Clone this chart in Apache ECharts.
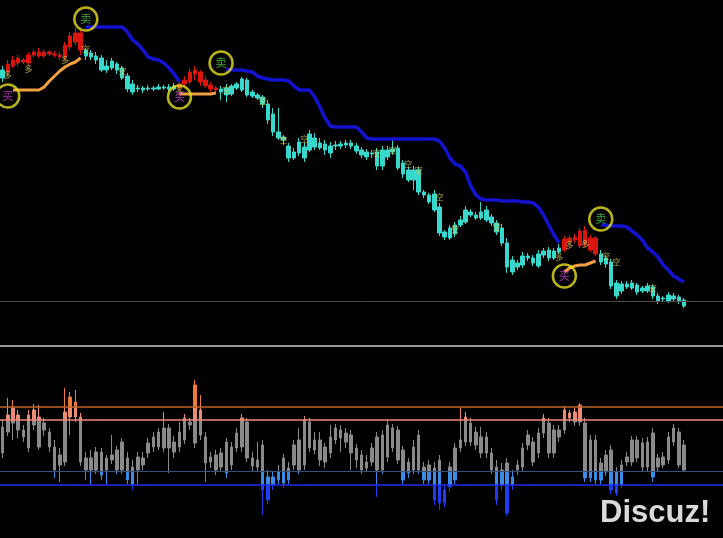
<!DOCTYPE html>
<html><head><meta charset="utf-8">
<script src="https://cdn.jsdelivr.net/npm/echarts@6/dist/echarts.min.js"></script>
<style>html,body{margin:0;padding:0;background:#000}#c{width:723px;height:538px}</style>
</head><body><div id="c"></div>
<script>
// ---- data (price axis is drawn inverted: smaller value = higher on screen) ----
const SLOTS = 139; // bar slots across the window (last ones empty)
const categories = Array.from({length: SLOTS}, (_, i) => 'B' + i);

const priceOpen = [70,72,66,63,60,63,55,52,56,52,54,55,57,47,42,33,
50,53,56,58,66,68,64,68,76,84,89,88,89,88,89,88,87,89,
88,84,82,74,72,80,85,88,
89,88,94,88,90,80,92,95,97,104,114,132,137,146,152,153,147,150,138,143,144,146,146,144,145,
143,146,150,152,154,152,166,150,152,148,163,170,180,170,192,195,194,207,232,238,234,225,222,212,215,218,210,217,223,228,243,272,263,265,256,258,266,255,250,258,252,
250,242,240,246,230,238,238,
254,258,262,283,284,284,288,285,288,291,287,296,298,301,296,297,300];
const priceClose = [78,64,60,58,62,55,52,56,52,54,55,57,45,36,33,50,
56,57,60,70,70,61,70,78,89,92,88,90,88,89,87,87,89,86,
84,80,72,70,82,86,89,90,
92,95,86,84,79,95,96,98,104,120,132,138,140,158,158,142,158,134,147,148,150,153,145,146,143,
146,151,155,157,153,166,150,157,149,168,174,180,170,192,195,202,210,233,237,228,225,220,210,215,218,212,220,223,232,243,267,260,267,256,258,263,254,251,258,251,248,
239,238,237,231,244,250,254,
262,264,286,296,291,287,283,292,291,286,296,301,299,295,299,301,306];
const priceHigh = [66,60,56,55,58,52,50,48,50,50,51,52,42,32,28,30,
48,50,52,55,60,58,62,66,73,80,85,86,85,86,84,85,84,83,
82,76,68,66,70,76,82,86,
86,84,84,82,77,78,90,93,95,100,108,108,135,143,148,138,143,130,133,138,140,142,141,141,140,
140,143,147,149,150,148,146,146,140,145,160,167,166,167,190,193,190,203,230,225,222,216,206,209,212,202,206,214,220,224,238,256,260,252,253,255,250,248,247,248,244,
236,235,234,228,226,235,236,
250,255,259,280,281,281,280,283,286,283,285,293,296,292,293,295,298];
const priceLow = [82,76,68,66,64,65,57,58,58,56,57,60,60,50,45,55,
60,60,64,72,73,70,74,80,92,95,92,93,91,91,90,90,92,91,
90,86,84,80,86,88,92,94,
100,102,96,90,92,97,98,100,108,124,136,140,145,162,160,156,162,152,150,150,155,158,150,149,148,
149,154,158,160,158,170,170,160,155,170,178,182,190,195,198,204,212,236,240,240,237,227,224,217,220,220,222,226,235,246,273,275,270,268,261,266,268,258,261,260,254,
252,244,243,248,247,252,256,
265,268,289,299,294,289,290,295,293,293,299,304,302,303,301,304,308];
// up-trend (red) bar ranges, inclusive
const upTrendRanges = [[1,15],[34,41],[108,114]];

// resistance (blue) and support (orange) trailing lines: [startIndex, values]
const resistanceSegments = [
  [16, [27,27,27,27,27,27,27,27,32,40,44,50,57,59,60,63,68,74,82]],
  [43, [69,70,70,70,71,72,76,78,79,80,80,80,81,86,90,90,90,97,107,118,126,127,127,127,127,127,132,138,
        139,139,139,139,139,139,139,139,139,139,139,139,139,141,148,158,164,166,172,186,195,199,
        200,200,200,201,201,201,201,202,202,203,207,215,225,235,243]],
  [115, [225,225,226,226,226,227,231,235,240,248,252,257,265,270,276,279,282]]
];
const supportSegments = [
  [2, [90,90,90,90,90,90,87,81,76,71,67,64,62,58]],
  [34, [94,94,94,94,94,94,94,93]],
  [108, [272,268,266,265,265,263,261]]
];
// signal circles: [index, level, text]
const signals = [[1,96,'买'],[16,19,'卖'],[34,97,'买'],[42,63,'卖'],[108,276,'买'],[115,219,'卖']];
// small bar annotations: [index, level, text]
const barNotes = [[1,75,'多'],[5,69,'多'],[12,60,'多'],[16,49,'空'],[23,71,'空'],[34,91,'多'],[43,90,'空'],
  [50,101,'空'],[54,140,'空'],[58,139,'空'],[72,153,'空'],[75,150,'空'],[78,164,'空'],[80,170,'空'],
  [84,197,'空'],[87,229,'空'],[95,227,'空'],[107,257,'多'],[109,245,'多'],[112,244,'多'],
  [116,256,'空'],[118,262,'空'],[125,288,'空']];

// oscillator panel (inverted axis)
const oscBodyTop = [427,415,408,415,430,415,410,417,423,432,447,455,412,397,402,417,458,458,452,452,458,455,450,442,458,467,457,458,443,437,432,428,428,442,432,418,422,385,410,437,457,455,453,442,447,433,418,422,458,460,445,477,477,472,458,468,445,440,420,422,440,440,447,437,428,430,433,435,448,455,462,448,437,435,425,428,430,450,462,447,435,467,465,468,460,490,467,448,440,417,423,432,437,437,453,467,470,463,477,465,448,435,442,433,418,423,430,430,410,413,412,405,423,440,440,463,455,450,472,465,457,440,440,443,442,433,458,457,437,428,432,445];
const oscBodyBottom = [453,432,423,430,437,448,425,447,430,447,470,465,462,417,417,462,470,470,470,475,470,460,470,470,480,485,470,465,453,447,447,448,448,452,447,440,425,443,435,463,462,470,467,473,465,448,447,458,466,467,490,500,485,480,483,480,465,470,465,448,450,460,462,453,440,438,442,453,460,470,468,462,470,470,457,448,460,480,473,470,470,480,480,500,503,503,487,480,448,442,442,445,453,453,470,500,485,513,485,470,467,445,462,453,433,453,453,437,430,418,422,422,478,478,480,480,472,490,493,485,462,462,458,467,467,477,467,465,460,442,465,470];
const oscWickTop = [420,398,400,410,425,410,404,405,418,428,440,448,388,392,390,413,452,450,447,448,455,435,446,438,452,460,452,452,438,432,428,412,424,436,422,414,418,380,395,432,452,450,448,438,442,428,414,418,452,442,440,470,472,465,454,462,440,428,416,418,432,432,443,425,424,425,428,430,444,450,455,443,432,430,420,424,426,446,458,440,430,462,460,462,455,485,462,443,408,412,418,427,427,432,448,460,463,458,470,460,443,430,437,428,414,418,425,425,406,410,408,403,418,435,435,458,450,445,467,460,452,436,436,438,437,428,454,452,432,424,428,440];
const oscWickBottom = [458,436,440,438,442,452,430,450,436,452,478,482,466,435,422,466,480,485,474,480,485,464,474,474,484,490,486,470,458,452,450,452,473,458,452,444,430,448,440,482,468,475,472,478,470,452,452,462,472,472,515,504,490,484,488,484,470,474,470,452,454,466,468,458,444,452,448,470,468,474,472,466,497,474,462,452,464,484,478,474,474,484,484,505,510,507,492,484,452,446,446,450,458,458,474,505,490,516,490,475,472,450,466,458,438,458,458,442,434,422,426,426,482,482,484,484,476,494,496,488,466,466,462,472,472,482,471,468,464,446,468,472];
const oscLevels = [407, 420, 471, 485];

// ---- build ----
const RED = '#d8160f', CYAN = '#38d8cc';
function isUp(i){ return upTrendRanges.some(r => i >= r[0] && i <= r[1]); }
const topData = priceOpen.map((o, i) => {
  const c = isUp(i) ? RED : CYAN;
  return {value:[o, priceClose[i], priceHigh[i], priceLow[i]],
          itemStyle:{color:c, color0:c, borderColor:c, borderColor0:c, borderWidth:1}};
});
function segLine(segs){
  const arr = new Array(priceOpen.length).fill(null);
  segs.forEach(([s, vals]) => vals.forEach((v, k) => { arr[s + k] = v; }));
  return arr;
}
const oscData = oscBodyTop.map((t, i) => [t, oscBodyBottom[i], oscWickTop[i], oscWickBottom[i]]);

const H0 = 346, H1 = 538;
const f = y => (y - H0) / (H1 - H0);
const oscGrad = new echarts.graphic.LinearGradient(0, H0, 0, H1, [
  {offset:0, color:'#f07a3c'}, {offset:f(407), color:'#f07a3c'},
  {offset:f(407), color:'#ec8c72'}, {offset:f(420), color:'#ec8c72'},
  {offset:f(420), color:'#8a8a8a'}, {offset:f(471), color:'#8a8a8a'},
  {offset:f(471), color:'#3a8ce8'}, {offset:f(485), color:'#3a8ce8'},
  {offset:f(485), color:'#1f3cf2'}, {offset:1, color:'#1f3cf2'}
], true);
const levelColors = ['#c0642a', '#f08a78', '#2e5278', '#1e2ef0'];
const levelWidths = [1.5, 1.5, 1, 1.6];

const chart = echarts.init(document.getElementById('c'), null, {renderer:'canvas'});
chart.setOption({
  backgroundColor:'#000',
  animation:false,
  grid:[{left:-1, width:724, top:0, height:H0},
        {left:-1, width:724, top:H0, height:H1 - H0}],
  xAxis:[{type:'category', data:categories, gridIndex:0, show:false},
         {type:'category', data:categories, gridIndex:1, show:false}],
  yAxis:[{gridIndex:0, inverse:true, min:0, max:H0, show:false},
         {gridIndex:1, inverse:true, min:H0, max:H1, show:false}],
  series:[
    {type:'candlestick', xAxisIndex:0, yAxisIndex:0, barWidth:4, data:topData,
     markLine:{silent:true, symbol:'none', label:{show:false}, animation:false,
       data:[{yAxis:301, lineStyle:{color:'#4a4a4a', width:1, type:'solid'}}]}},
    {type:'line', xAxisIndex:0, yAxisIndex:0, data:segLine(resistanceSegments), showSymbol:false,
     connectNulls:false, lineStyle:{color:'#1212d0', width:3.5}, z:3},
    {type:'line', xAxisIndex:0, yAxisIndex:0, data:segLine(supportSegments), showSymbol:false,
     connectNulls:false, lineStyle:{color:'#f0a040', width:3}, z:3},
    {type:'scatter', xAxisIndex:0, yAxisIndex:0, z:6, symbol:'circle', symbolSize:23,
     itemStyle:{color:'rgba(0,0,0,0)', borderColor:'#e6e020', borderWidth:2.5},
     data:signals.map(s => ({value:[s[0], s[1]],
       label:{show:true, position:'inside', formatter:s[2], fontSize:11,
              fontFamily:'"Noto Sans CJK SC"', color: s[2] === '卖' ? '#50d048' : '#d040e0'}}))},
    {type:'scatter', xAxisIndex:0, yAxisIndex:0, z:5, symbolSize:1,
     itemStyle:{color:'rgba(0,0,0,0)'},
     data:barNotes.map(s => ({value:[s[0], s[1]],
       label:{show:true, position:'inside', formatter:s[2], fontSize:8,
              fontFamily:'"Noto Sans CJK SC"', color:'#d8cc50'}}))},
    {type:'candlestick', xAxisIndex:1, yAxisIndex:1, barWidth:3, data:oscData,
     itemStyle:{color:oscGrad, color0:oscGrad, borderColor:oscGrad, borderColor0:oscGrad, borderWidth:1},
     markLine:{silent:true, symbol:'none', label:{show:false}, animation:false,
       data:[{yAxis:H0, lineStyle:{color:'#c8c8c8', width:1.5, type:'solid'}}]
         .concat(oscLevels.map((v, k) => ({yAxis:v, lineStyle:{color:levelColors[k], width:levelWidths[k], type:'solid'}})))}}
  ],
  graphic:[{type:'text', left:600, top:498, z:100,
    style:{text:'Discuz!', font:'bold 31px "Liberation Sans", Arial, sans-serif', fill:'#dadada',
           shadowColor:'rgba(0,0,0,0.6)', shadowBlur:2}}]
});
</script></body></html>
